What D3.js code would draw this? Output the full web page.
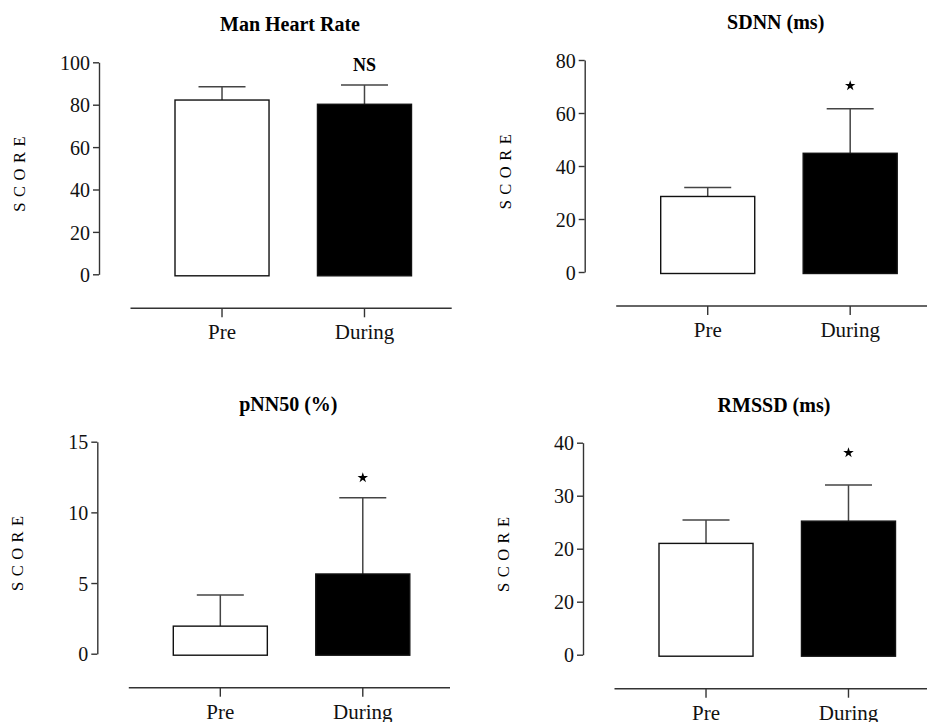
<!DOCTYPE html>
<html>
<head>
<meta charset="utf-8">
<script src="https://cdn.jsdelivr.net/npm/d3@7"></script>
<style>
  body { margin: 0; background: #fff; }
  svg { display: block; font-family: "Liberation Serif", "Times New Roman", serif; }
  .title { font-weight: bold; font-size: 20px; text-anchor: middle; }
  .ylab { font-size: 16.5px; letter-spacing: 5.5px; text-anchor: middle; }
  .tick text { font-size: 20px; fill: #111; }
  .xaxis .tick text { font-size: 21px; }
  .note { font-weight: bold; font-size: 18px; text-anchor: middle; }
</style>
</head>
<body>
<svg id="chart" width="927" height="722"></svg>
<script>
// chart values
var categories = ["Pre", "During"];
var titles = ["Man Heart Rate", "SDNN (ms)", "pNN50 (%)", "RMSSD (ms)"];

var heartRateMean = [82.2, 80.2];
var heartRateErr  = [6.3, 9.1];
var sdnnMean = [28.5, 44.8];
var sdnnErr  = [3.4, 16.8];
var pnn50Mean = [1.95, 5.64];
var pnn50Err  = [2.2, 5.4];
var rmssdMean = [21.0, 25.2];
var rmssdErr  = [4.4, 6.8];

var yMax = [100, 80, 15, 40];
var tickValues = [[0, 20, 40, 60, 80, 100], [0, 20, 40, 60, 80], [0, 5, 10, 15], [0, 10, 20, 30, 40]];
var tickLabels = [["0", "20", "40", "60", "80", "100"], ["0", "20", "40", "60", "80"],
                  ["0", "5", "10", "15"], ["0", "20", "20", "30", "40"]];

// significance marks over the "During" bar, and the value they sit at
var notes = ["NS", "*", "*", "*"];
var noteValue = [96, 70.3, 12.45, 38.1];

var means = [heartRateMean, sdnnMean, pnn50Mean, rmssdMean];
var errs  = [heartRateErr, sdnnErr, pnn50Err, rmssdErr];

// where each panel's y axis sits
var layout = [{ax: 99, top: 62.3}, {ax: 584.7, top: 60}, {ax: 97.3, top: 441.7}, {ax: 583, top: 442.7}];
var plotH = 212;

var svg = d3.select("#chart");

for (var p = 0; p < 4; p++) {
  drawPanel(p);
}

function drawPanel(p) {
  var L = layout[p];
  var g = svg.append("g");
  var y = d3.scaleLinear().domain([0, yMax[p]]).range([L.top + plotH, L.top]);
  var x = d3.scaleBand().domain(categories)
      .range([L.ax + 76, L.ax + 312.5]).paddingInner(0.34).paddingOuter(0);

  var data = categories.map(function(c, i) {
    return {cat: c, mean: means[p][i], err: errs[p][i], i: i};
  });

  // title
  g.append("text").attr("class", "title")
    .attr("x", L.ax + 191).attr("y", L.top - 31)
    .text(titles[p]);

  // y label
  g.append("text").attr("class", "ylab")
    .attr("transform", "translate(" + (L.ax - 74) + "," + (L.top + plotH / 2 + 3) + ") rotate(-90)")
    .text("SCORE");

  // y axis
  var yAxis = g.append("g")
    .attr("transform", "translate(" + L.ax + ",0)")
    .call(d3.axisLeft(y).tickValues(tickValues[p])
      .tickFormat(function(d, i) { return tickLabels[p][i]; })
      .tickSize(6).tickSizeOuter(0).tickPadding(3));
  yAxis.attr("font-family", null).attr("font-size", null);
  yAxis.selectAll("path, line").attr("stroke", "#333").attr("stroke-width", 1.4);
  yAxis.selectAll(".tick text").attr("dy", "0.36em");

  // error bars
  var eb = g.selectAll(".err").data(data).enter().append("g");
  eb.append("line")
    .attr("x1", function(d) { return x(d.cat) + x.bandwidth() / 2; })
    .attr("x2", function(d) { return x(d.cat) + x.bandwidth() / 2; })
    .attr("y1", function(d) { return y(d.mean); })
    .attr("y2", function(d) { return y(d.mean + d.err); })
    .attr("stroke", "#444").attr("stroke-width", 1.5);
  eb.append("line")
    .attr("x1", function(d) { return x(d.cat) + x.bandwidth() / 2 - 23.5; })
    .attr("x2", function(d) { return x(d.cat) + x.bandwidth() / 2 + 23.5; })
    .attr("y1", function(d) { return y(d.mean + d.err); })
    .attr("y2", function(d) { return y(d.mean + d.err); })
    .attr("stroke", "#444").attr("stroke-width", 1.5);

  // bars
  g.selectAll(".bar").data(data).enter().append("rect")
    .attr("x", function(d) { return x(d.cat); })
    .attr("y", function(d) { return y(d.mean); })
    .attr("width", x.bandwidth())
    .attr("height", function(d) { return y(0) - y(d.mean) + 1.5; })
    .attr("fill", function(d) { return d.i == 0 ? "#fff" : "#000"; })
    .attr("stroke", "#111").attr("stroke-width", 1.4);

  // x axis, separated below the plot
  var xy = y(0) + 34;
  g.append("line")
    .attr("x1", L.ax + 31.5).attr("x2", L.ax + 352.7)
    .attr("y1", xy).attr("y2", xy)
    .attr("stroke", "#333").attr("stroke-width", 1.4);
  var xAxis = g.append("g").attr("class", "xaxis")
    .attr("transform", "translate(0," + xy + ")")
    .call(d3.axisBottom(x).tickSize(9).tickPadding(7));
  xAxis.attr("font-family", null).attr("font-size", null);
  xAxis.select(".domain").remove();
  xAxis.selectAll("line").attr("stroke", "#333").attr("stroke-width", 1.4);

  // significance mark
  var cx = x("During") + x.bandwidth() / 2;
  if (notes[p] == "*") {
    g.append("path")
      .attr("d", d3.symbol().type(d3.symbolStar).size(34)())
      .attr("transform", "translate(" + cx + "," + y(noteValue[p]) + ")")
      .attr("fill", "#000");
  } else {
    g.append("text").attr("class", "note")
      .attr("x", cx).attr("y", y(noteValue[p]))
      .text(notes[p]);
  }
}
</script>
</body>
</html>
